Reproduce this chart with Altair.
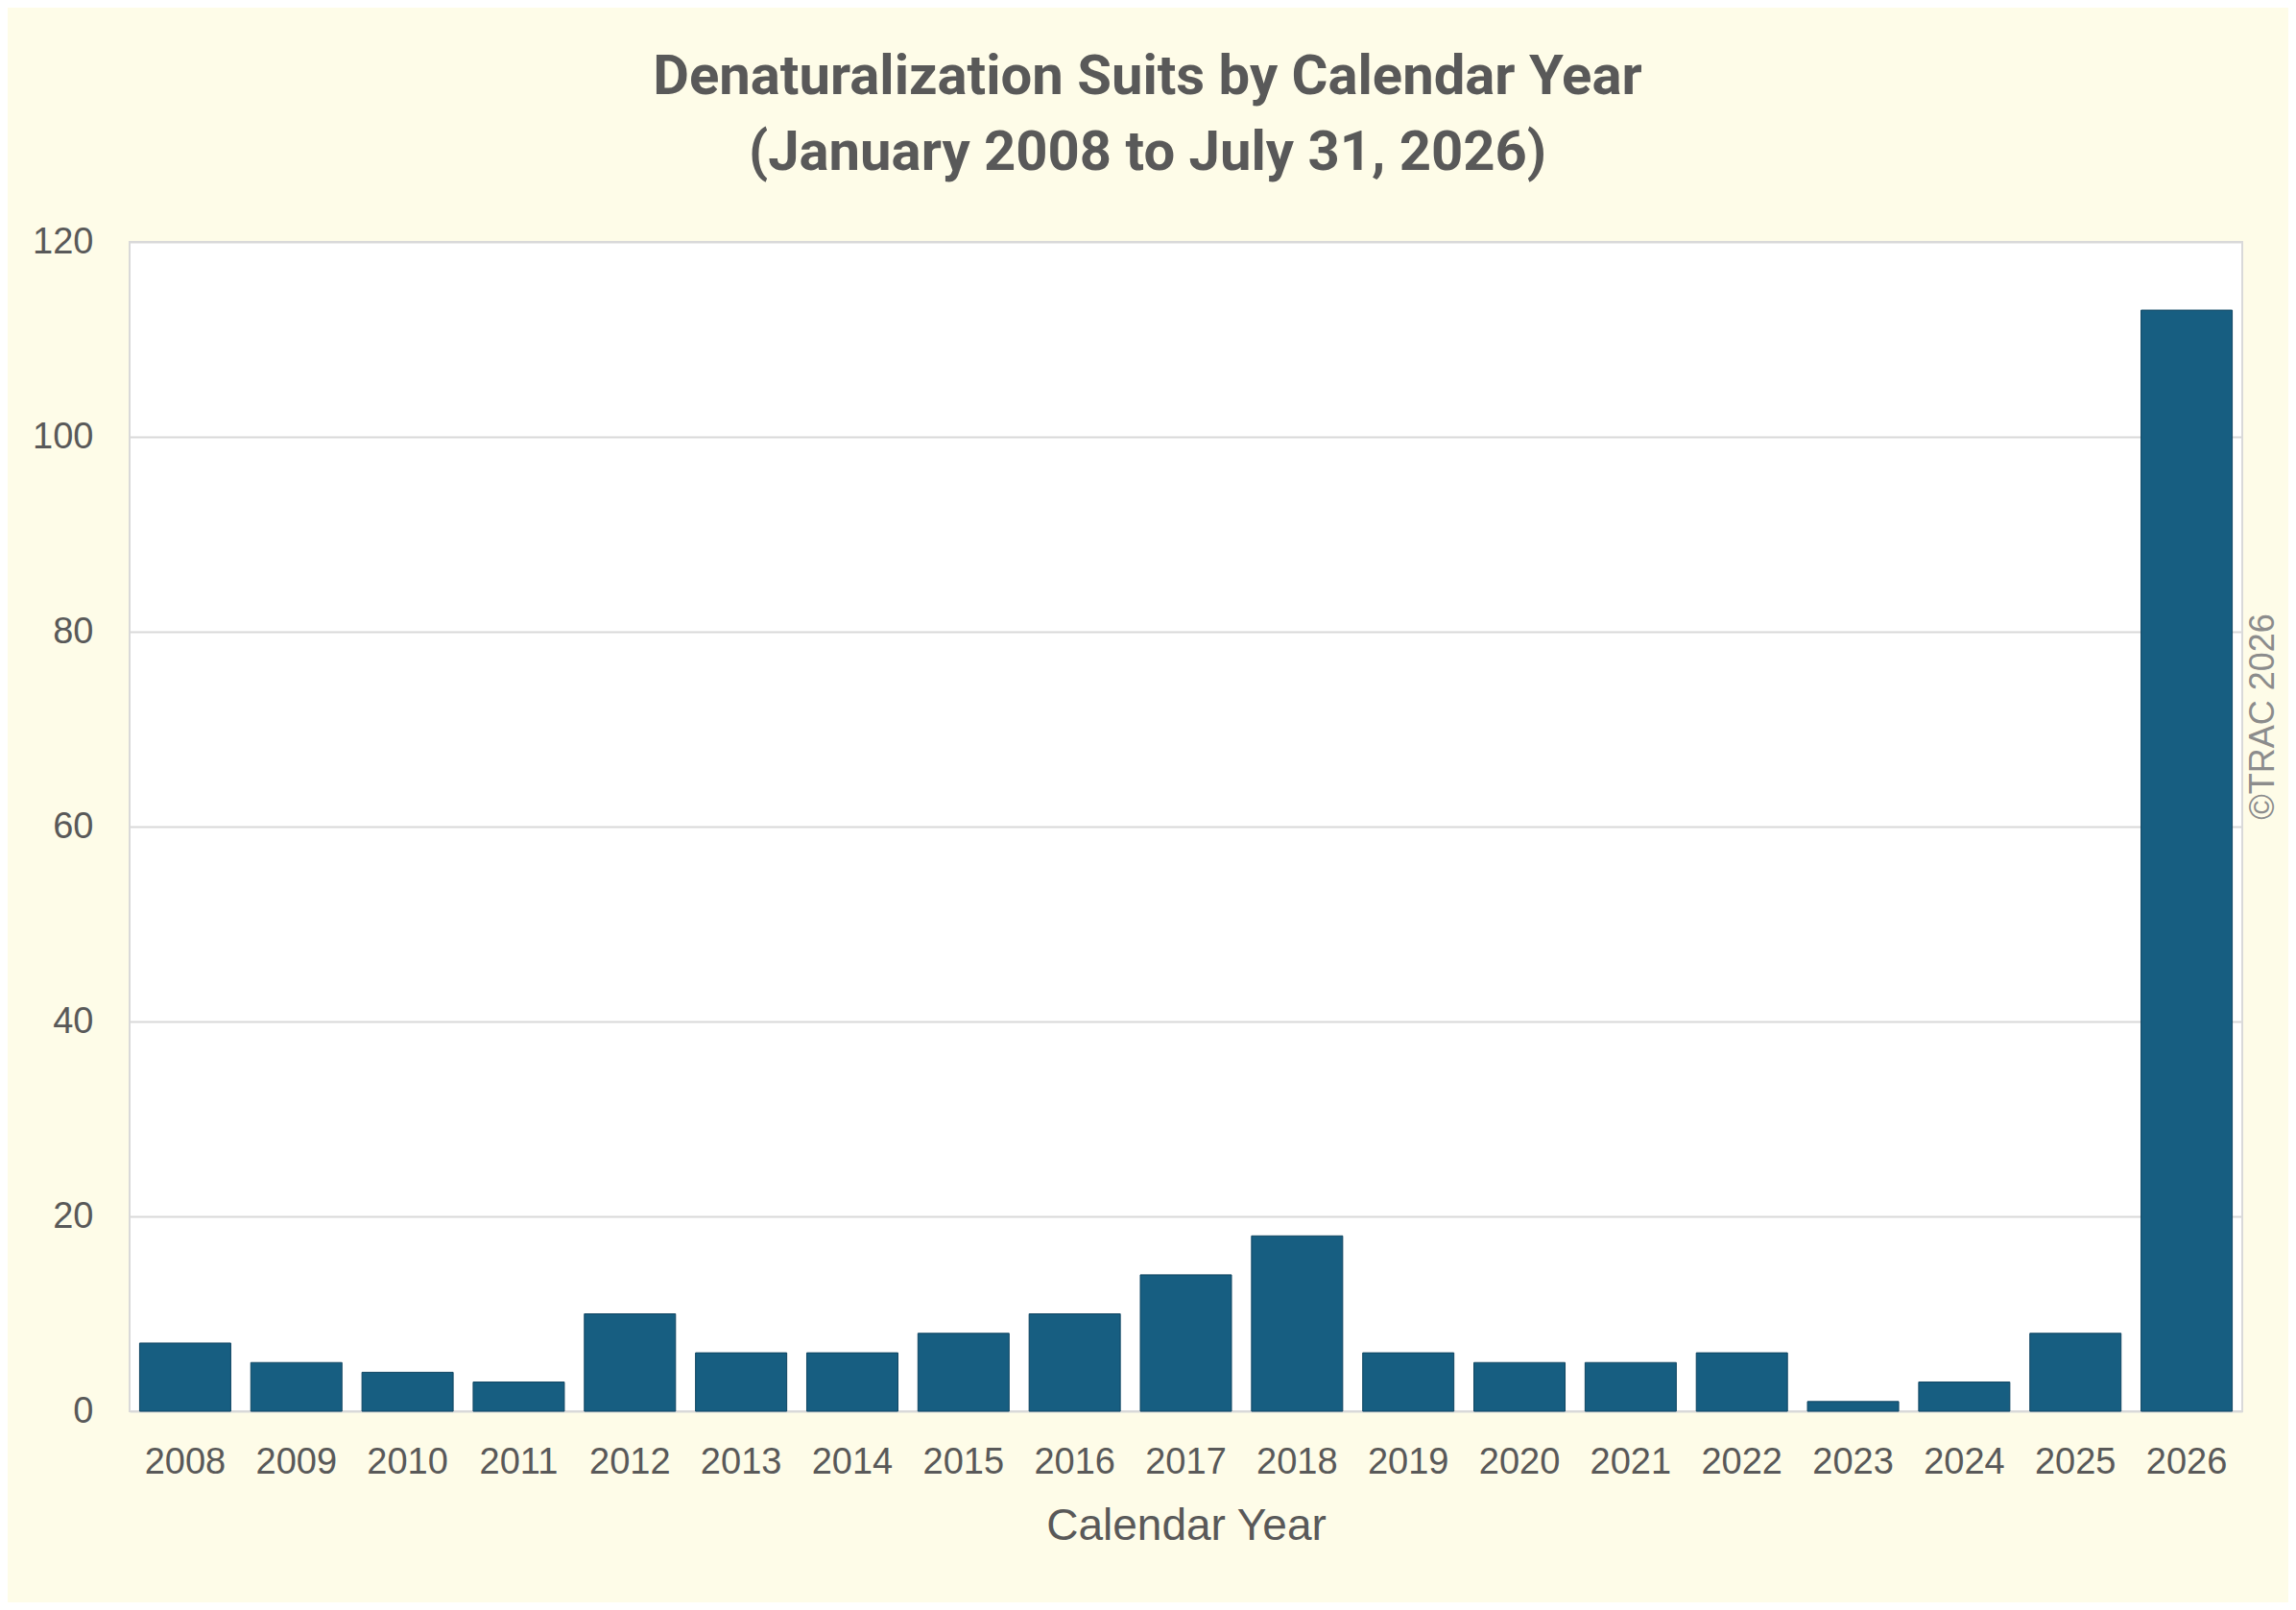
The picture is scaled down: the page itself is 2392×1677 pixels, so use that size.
import altair as alt
import pandas as pd

years = ["2008", "2009", "2010", "2011", "2012", "2013", "2014", "2015", "2016", "2017",
         "2018", "2019", "2020", "2021", "2022", "2023", "2024", "2025", "2026"]
suits = [7, 5, 4, 3, 10, 6, 6, 8, 10, 14, 18, 6, 5, 5, 6, 1, 3, 8, 113]

df = pd.DataFrame({"year": years, "suits": suits})

TEXT = "#595959"
GRID = "#D9D9D9"
BAR = "#175E81"
BG = "#FEFCE8"

x_enc = alt.X(
    "year:N",
    sort=years,
    scale=alt.Scale(paddingInner=0.18, paddingOuter=0.09),
    axis=alt.Axis(
        title="Calendar Year",
        labelAngle=0,
        labelFont="Liberation Sans",
        labelFontSize=38,
        labelColor=TEXT,
        labelPadding=34,
        ticks=False,
        domain=False,
        titleFont="Liberation Sans",
        titleFontSize=46,
        titleFontWeight="normal",
        titleColor=TEXT,
        titlePadding=25,
    ),
)

bars = alt.Chart(df).mark_bar(color=BAR, stroke="#0F4562", strokeWidth=1).encode(
    x=x_enc,
    y=alt.Y(
        "suits:Q",
        scale=alt.Scale(domain=[0, 120]),
        axis=alt.Axis(
            title=None,
            values=[0, 20, 40, 60, 80, 100, 120],
            labelFont="Liberation Sans",
            labelFontSize=38,
            labelColor=TEXT,
            labelPadding=38,
            ticks=False,
            domain=False,
            grid=True,
            gridColor=GRID,
            gridWidth=2,
        ),
    ),
)

credit = alt.Chart(df).mark_bar(opacity=0).encode(
    x=alt.X("year:N", sort=years),
    y=alt.Y(
        "suits:Q",
        axis=alt.Axis(
            orient="right",
            title="©TRAC 2026",
            labels=False,
            ticks=False,
            domain=False,
            grid=False,
            titleFont="Liberation Sans",
            titleFontSize=36,
            titleFontWeight="normal",
            titleColor="#8C8C8C",
            titleAngle=270,
            titleAlign="center",
            titleBaseline="middle",
            titleX=21,
            titleY=494,
        ),
    ),
)

chart = (
    alt.layer(bars, credit)
    .resolve_axis(y="independent")
    .properties(
        width=2201,
        height=1218,
        padding={"left": 127, "top": 244, "right": 48, "bottom": 199},
        autosize=alt.AutoSizeParams(type="none"),
        background=BG,
        title=alt.TitleParams(
            text=["Denaturalization Suits by Calendar Year", "(January 2008 to July 31, 2026)"],
            font="Roboto",
            fontSize=58,
            fontWeight="bold",
            color=TEXT,
            lineHeight=79,
            anchor="middle",
            dx=-40,
            offset=44,
        ),
    )
    .configure_view(stroke=GRID, strokeWidth=2, fill="white")
)

chart.save("out.html", embed_options={"renderer": "svg", "actions": False})
